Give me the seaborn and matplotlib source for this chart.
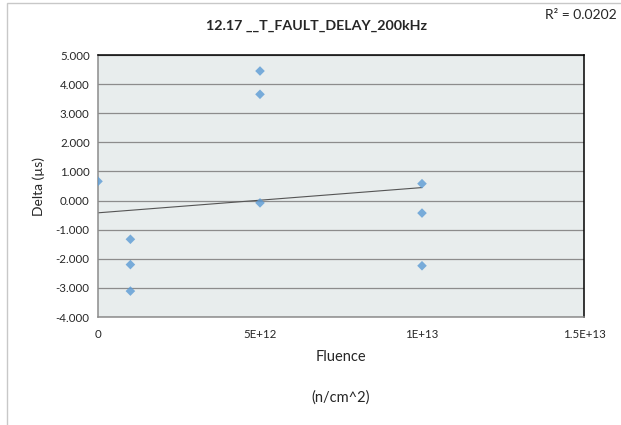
import numpy as np
import pandas as pd
import matplotlib
matplotlib.use("Agg")
import matplotlib.pyplot as plt
import seaborn as sns
from matplotlib.patches import Rectangle

# values
fluence = [0, 1e12, 1e12, 1e12, 5e12, 5e12, 5e12, 1e13, 1e13, 1e13]
delta = [0.66, -1.33, -2.20, -3.11, 4.45, 3.65, -0.08, 0.58, -0.43, -2.24]
y_ticks = [-4, -3, -2, -1, 0, 1, 2, 3, 4, 5]
x_ticks = [0, 5e12, 1e13, 1.5e13]
x_tick_labels = ["0", "5E+12", "1E+13", "1.5E+13"]

df = pd.DataFrame({"Fluence": fluence, "Delta": delta})

sns.set_style("white")
plt.rcParams["font.family"] = ["Lato", "DejaVu Sans"]

fig = plt.figure(figsize=(6.21, 4.25), dpi=100)
ax = fig.add_axes([98 / 621, 1 - 317 / 425, (584 - 98) / 621, (317 - 55) / 425])
ax.set_facecolor("#e8eded")

sns.regplot(data=df, x="Fluence", y="Delta", ax=ax, ci=None, marker="D",
            scatter_kws={"s": 24, "color": "#5b9bd5", "edgecolors": "none", "zorder": 3},
            line_kws={"color": "#555555", "lw": 0.8, "zorder": 2})

ax.set_xlim(0, 1.5e13)
ax.set_ylim(-4, 5)
ax.set_yticks(y_ticks)
ax.set_yticklabels([f"{v:.3f}" for v in y_ticks])
ax.set_xticks(x_ticks)
ax.set_xticklabels(x_tick_labels)
ax.tick_params(axis="both", labelsize=8.3, length=3, color="#888888", direction="out", pad=3)
ax.tick_params(axis="x", pad=6)
ax.yaxis.grid(True, color="#8c8c8c", lw=0.9)
ax.set_axisbelow(True)

for side in ["top", "right"]:
    ax.spines[side].set_color("black")
    ax.spines[side].set_linewidth(1.1)
for side in ["left", "bottom"]:
    ax.spines[side].set_color("#8c8c8c")
    ax.spines[side].set_linewidth(1.1)

ax.set_xlabel("")
ax.set_ylabel("")
fig.text(39 / 621, 1 - 186 / 425, "Delta (µs)", ha="center", va="center", rotation=90, fontsize=10)

fig.text(316 / 621, 1 - 26 / 425, "12.17 __T_FAULT_DELAY_200kHz", ha="center", va="center",
         fontsize=10.3, fontweight="bold")
fig.text(617 / 621, 1 - 15 / 425, "R² = 0.0202", ha="right", va="center", fontsize=10)
fig.text(341 / 621, 1 - 357 / 425, "Fluence", ha="center", va="center", fontsize=10.5)
fig.text(341 / 621, 1 - 398 / 425, "(n/cm^2)", ha="center", va="center", fontsize=10.5)

# outer chart border (only left and top visible in the crop)
fig.patches.append(Rectangle((7 / 621, -0.1), 1.2, 1 - 3 / 425 + 0.1, transform=fig.transFigure,
                             fill=False, edgecolor="#c8c8c8", lw=1))

fig.savefig("out.png", dpi=100)
